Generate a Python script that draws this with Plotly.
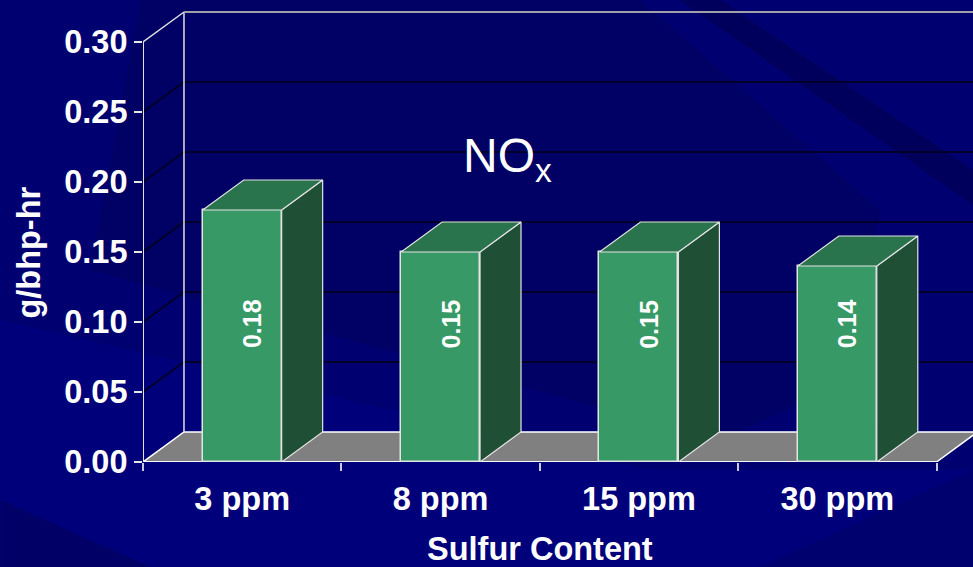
import plotly.graph_objects as go

categories = ["3 ppm", "8 ppm", "15 ppm", "30 ppm"]
values = [0.18, 0.15, 0.15, 0.14]
y_ticks = [0.00, 0.05, 0.10, 0.15, 0.20, 0.25, 0.30]

W, H = 973, 567
L, B = 142.5, 105
FONT = "Liberation Sans, Arial, sans-serif"
BAR_W = 0.398
DX = 41 / 198.5     # depth in category units
DY = 30 / 1400      # depth in value units
XMIN, XEND = -0.5, 3.5
XVIEW = -0.5 + (W - L) / 198.5
YTOP, YVIEW = 0.30, (H - B) / 1400
FRONT, TOP, SIDE = "#369966", "#29734D", "#1F4F35"
EDGE = "#E4E4E4"

positions = list(range(len(categories)))
fig = go.Figure()


def poly(xs, ys, fill, line=EDGE, lw=1.5, axes=("x", "y")):
    fig.add_trace(go.Scatter(x=xs + xs[:1], y=ys + ys[:1], mode="lines", fill="toself",
                             fillcolor=fill, line=dict(color=line, width=lw),
                             xaxis=axes[0], yaxis=axes[1], cliponaxis=False,
                             hoverinfo="skip", showlegend=False))


def seg(xs, ys, color, lw):
    fig.add_trace(go.Scatter(x=xs, y=ys, mode="lines", line=dict(color=color, width=lw),
                             cliponaxis=False, hoverinfo="skip", showlegend=False))


# wall gridlines
for t in y_ticks[1:-1]:
    seg([XMIN, XMIN + DX, XEND + DX], [t, t + DY, t + DY], "#00002A", 2)
# floor
poly([XMIN, XMIN + DX, XEND + DX, XEND], [0, DY, DY, 0], "#808080", "#FFFFFF", 1.5)
# wall frame and axis lines
seg([XMIN + DX, XMIN + DX], [DY, YTOP + DY], "#E0E0E0", 1.5)
seg([XMIN, XMIN + DX], [YTOP, YTOP + DY], "#E0E0E0", 1.5)
seg([XMIN + DX, XEND + DX], [YTOP + DY, YTOP + DY], "#A0A0A8", 2)
seg([XMIN, XMIN], [0, YTOP], "#E0E0E0", 2)
seg([XMIN, XEND], [0, 0], "#FFFFFF", 1.5)

# bars, on an overlaid subplot so they sit above floor and grid
over = ("x2", "y2")
for p, v in zip(positions, values):
    a, b = p - BAR_W / 2, p + BAR_W / 2
    poly([b, b + DX, b + DX, b], [0, DY, v + DY, v], SIDE, EDGE, 1.2, over)
    poly([a, a + DX, b + DX, b], [v, v + DY, v + DY, v], TOP, EDGE, 1.2, over)
fig.add_trace(go.Bar(x=positions, y=values, width=BAR_W, xaxis="x2", yaxis="y2", cliponaxis=False,
                     marker=dict(color=FRONT, line=dict(color=EDGE, width=1.5)),
                     hoverinfo="y", showlegend=False))


def to_paper(x, y):
    return (x - L) / (W - L), (H - B - y) / (H - B)


def band(points, color):
    d = ""
    for i, (x, y) in enumerate(points):
        u, w = to_paper(x, y)
        d += ("M" if i == 0 else "L") + f"{u:.4f} {w:.4f} "
    return dict(type="path", path=d + "Z", xref="paper", yref="paper", layer="below",
                fillcolor=color, line=dict(width=0))


shapes = [
    band([(0, 0), (973, 0), (973, 470), (650, 470), (0, 320)], "#000070"),
    band([(140, 0), (640, 0), (880, 210), (850, 380), (720, 440), (90, 270)], "#000065"),
    band([(680, 0), (720, 0), (973, 170), (973, 205)], "#00005C"),
    band([(0, 500), (150, 567), (0, 567)], "#000066"),
    band([(760, 567), (973, 470), (973, 567)], "#00006E"),
]

annotations = [
    dict(x=p + 0.05, y=0.0986, text=f"{v:.2f}", textangle=-90, showarrow=False,
         xref="x2", yref="y2", font=dict(family=FONT, size=25, color="white", weight="bold"))
    for p, v in zip(positions, values)
]
annotations.append(dict(x=1.339, y=0.2167, xref="x", yref="y", text="NO<sub>x</sub>", showarrow=False,
                        font=dict(family=FONT, size=48, color="white")))

title_font = dict(family=FONT, size=32.5, color="white", weight="bold")
tx, ty = to_paper(539.5, 549)
annotations.append(dict(x=tx, y=ty, xref="paper", yref="paper", text="Sulfur Content",
                        xanchor="center", yanchor="middle", showarrow=False, font=title_font))
tx, ty = to_paper(28, 253)
annotations.append(dict(x=tx, y=ty, xref="paper", yref="paper", text="g/bhp-hr", textangle=-90,
                        xanchor="center", yanchor="middle", showarrow=False, font=title_font))

fig.update_layout(
    width=W, height=H, margin=dict(l=L, r=0, t=0, b=B, pad=0),
    paper_bgcolor="#00007A", plot_bgcolor="rgba(0,0,0,0)",
    shapes=shapes, annotations=annotations, bargap=0, showlegend=False,
    xaxis=dict(range=[XMIN, XVIEW], tickmode="array", tickvals=positions, ticktext=categories,
               automargin=False, showgrid=False, zeroline=False, showline=False,
               ticks="", ticklabelstandoff=14,
               minor=dict(tickvals=[-0.5, 0.5, 1.5, 2.5, 3.5], ticks="outside", ticklen=8,
                          tickcolor="#C8C8D8", tickwidth=1.5, showgrid=False),
               tickfont=dict(family=FONT, size=32.5, color="white", weight="bold")),
    yaxis=dict(range=[0, YVIEW], tickmode="array", tickvals=y_ticks, tickformat=".2f",
               automargin=False, showgrid=False, zeroline=False, showline=False,
               ticks="outside", ticklen=8, tickcolor="#E8E8E8", tickwidth=1.5,
               tickfont=dict(family=FONT, size=32.5, color="white", weight="bold")),
    xaxis2=dict(range=[XMIN, XVIEW], overlaying="x", visible=False),
    yaxis2=dict(range=[0, YVIEW], overlaying="y", visible=False),
)

fig.write_html("out.html", config=dict(displayModeBar=False),
               post_script="document.body.style.margin='0';document.body.style.overflow='hidden';")
